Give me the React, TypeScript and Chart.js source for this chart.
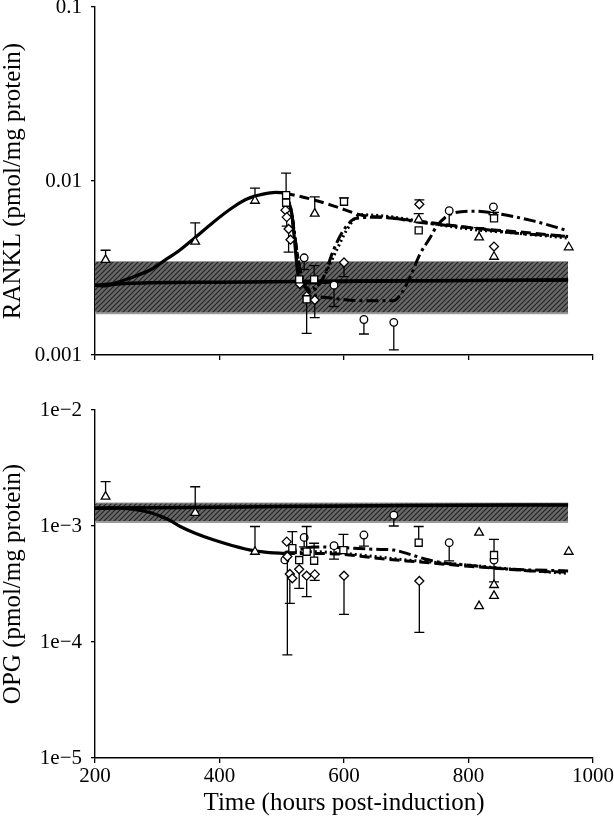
import React, { useEffect, useRef } from 'react';
import { Chart, registerables } from 'chart.js';

Chart.register(...registerables);

const FONT = '"Liberation Serif", "Times New Roman", serif';

// ---------- axes ----------
const xTicks = [200, 400, 600, 800, 1000];
const rankTickValues = [0.001, 0.01, 0.1];
const rankTickLabels = ['0.001', '0.01', '0.1'];
const opgTickValues = [1e-5, 1e-4, 1e-3, 1e-2];
const opgTickLabels = ['1e\u22125', '1e\u22124', '1e\u22123', '1e\u22122'];

// ---------- RANKL (top) ----------
const rankBandT = [200, 960];
const rankBandLow = [0.00174, 0.00174];
const rankBandHigh = [0.00342, 0.00342];

const rankCtrlT = [200, 215, 235, 400, 600, 800, 960];
const rankCtrlV = [0.00252, 0.0025, 0.00256, 0.00262, 0.00266, 0.00268, 0.0027];

const rankRiseT = [200, 230, 260, 290, 312, 336, 360, 390, 420, 445, 470, 490, 505, 511, 516, 521, 525, 529, 535, 545, 600, 800, 960];
const rankRiseV = [0.00252, 0.00258, 0.0028, 0.0031, 0.0035, 0.004, 0.0047, 0.0058, 0.007, 0.0079, 0.0084, 0.0086, 0.0085, 0.0076, 0.0065, 0.0044, 0.0031, 0.00265, 0.0026, 0.0026, 0.00264, 0.00268, 0.0027];

const rankDashT = [505, 513, 551, 588, 626, 679, 733, 800, 880, 960];
const rankDashV = [0.0085, 0.0084, 0.0078, 0.0071, 0.0064, 0.0061, 0.0058, 0.0054, 0.0051, 0.0048];

const rankDotT = [505, 516, 522, 530, 540, 561, 588, 604, 626, 680, 740, 800, 880, 960];
const rankDotV = [0.0085, 0.0065, 0.0045, 0.003, 0.0024, 0.0026, 0.004, 0.0052, 0.0064, 0.0062, 0.0057, 0.0053, 0.005, 0.0047];

const rankDashDotEarlyT = [505, 516, 522, 530, 545, 567, 583, 599, 620, 660, 720, 800, 880, 960];
const rankDashDotEarlyV = [0.0085, 0.0065, 0.0045, 0.003, 0.0023, 0.0028, 0.004, 0.0052, 0.0061, 0.0062, 0.0058, 0.0054, 0.005, 0.0048];

const rankDashDotLateT = [505, 516, 522, 530, 548, 577, 631, 679, 690, 706, 722, 738, 749, 776, 813, 840, 904, 958];
const rankDashDotLateV = [0.0085, 0.0065, 0.0045, 0.003, 0.00226, 0.00213, 0.00205, 0.00205, 0.0022, 0.0028, 0.0038, 0.0047, 0.0055, 0.00655, 0.0067, 0.00655, 0.0059, 0.0052];

const rankTriT = [217, 361, 457, 553, 720, 817, 841, 961];
const rankTriV = [0.00352, 0.00448, 0.0077, 0.0065, 0.006, 0.00474, 0.00367, 0.00416];
const rankTriErr = [0.004, 0.00575, 0.0091, 0.0081, 0.0065, 0.0054, null, null];

const rankSqT = [507, 507, 528, 552, 540, 600, 720, 841];
const rankSqV = [0.0083, 0.0075, 0.00272, 0.00272, 0.00209, 0.0076, 0.0052, 0.0061];
const rankSqErr = [0.0111, null, null, 0.00326, 0.00133, 0.008, null, 0.0066];

const rankDiaT = [506, 508, 511, 514, 529, 540, 553, 600, 721, 841];
const rankDiaV = [0.0068, 0.0062, 0.0053, 0.0046, 0.00256, 0.00218, 0.00207, 0.0034, 0.00735, 0.0042];
const rankDiaErr = [null, 0.0055, 0.0039, null, null, null, 0.00164, 0.00282, 0.00778, null];

const rankCirT = [536, 584, 632, 680, 769, 840];
const rankCirV = [0.00362, 0.00252, 0.0016, 0.00154, 0.00675, 0.0071];
const rankCirErr = [0.0031, 0.0019, 0.00132, 0.00107, 0.00559, 0.0064];

// ---------- OPG (bottom) ----------
const opgBandT = [200, 960];
const opgBandLow = [0.00108, 0.00108];
const opgBandHigh = [0.00156, 0.00156];

const opgCtrlT = [200, 300, 500, 700, 960];
const opgCtrlV = [0.00142, 0.00144, 0.00147, 0.0015, 0.00152];

const opgDropT = [200, 230, 260, 290, 320, 337, 360, 390, 420, 457, 480, 505];
const opgDropV = [0.00142, 0.00143, 0.0014, 0.0013, 0.00112, 0.00099, 0.00087, 0.00076, 0.00068, 0.00061, 0.00059, 0.00058];

const opgDashT = [505, 550, 600, 650, 700, 740, 800, 850, 900, 960];
const opgDashV = [0.00058, 0.00058, 0.00057, 0.00053, 0.0005, 0.00048, 0.00045, 0.00043, 0.00041, 0.0004];

const opgDotT = [505, 550, 600, 700, 800, 880, 960];
const opgDotV = [0.00058, 0.0006, 0.00058, 0.00051, 0.00046, 0.00042, 0.00039];

const opgDashDotT = [505, 530, 551, 600, 650, 680, 710, 730, 760, 800, 850, 960];
const opgDashDotV = [0.00059, 0.00063, 0.00066, 0.00065, 0.00063, 0.00062, 0.00056, 0.00052, 0.00048, 0.00046, 0.00043, 0.00041];

const opgTriT = [217, 361, 457, 817, 817, 841, 841, 961];
const opgTriV = [0.00179, 0.0013, 0.0006, 0.000877, 0.000204, 0.00031, 0.00025, 0.0006];
const opgTriErr = [0.00241, 0.00218, 0.00099, null, null, null, null, null];

const opgSqT = [517, 528, 540, 552, 599, 720, 841];
const opgSqV = [0.000643, 0.000509, 0.0006, 0.000502, 0.00062, 0.000718, 0.000562];
const opgSqErr = [0.000893, null, 0.00099, 0.00071, 0.000847, 0.00099, 0.000767];

const opgDiaT = [508, 509, 513, 517, 528, 540, 553, 600, 721];
const opgDiaV = [0.000733, 0.000545, 0.000386, 0.000354, 0.000424, 0.000373, 0.000383, 0.000373, 0.000336];
const opgDiaErr = [null, 0.0000773, 0.000215, null, 0.00029, 0.000246, 0.00034, 0.000173, 0.000121];

const opgCirT = [505, 536, 584, 632, 680, 769, 841];
const opgCirV = [0.00051, 0.000797, 0.000676, 0.000836, 0.00124, 0.000718, 0.000509];
const opgCirErr = [null, 0.00066, 0.000518, 0.00067, 0.001, 0.0005, 0.00033];

// ---------- helpers ----------
const pts = (t: number[], v: number[]) => t.map((x, i) => ({ x, y: v[i] }));

function hatchPattern(): CanvasPattern | string {
  const c = document.createElement('canvas');
  c.width = 5;
  c.height = 5;
  const g = c.getContext('2d');
  if (!g) return '#555';
  g.fillStyle = '#686868';
  g.fillRect(0, 0, 5, 5);
  g.strokeStyle = '#222';
  g.lineWidth = 1.1;
  g.beginPath();
  g.moveTo(0, 5);
  g.lineTo(5, 0);
  g.moveTo(-1, 1);
  g.lineTo(1, -1);
  g.moveTo(4, 6);
  g.lineTo(6, 4);
  g.stroke();
  return g.createPattern(c, 'repeat') || '#555';
}

const errorBarPlugin = {
  id: 'errorBars',
  beforeDatasetDraw(chart: any, args: any) {
    const ds: any = chart.data.datasets[args.index];
    if (!ds.errEnd) return;
    const ctx = chart.ctx;
    const ys = chart.scales.y;
    ctx.save();
    ctx.strokeStyle = '#000';
    ctx.lineWidth = 1.3;
    args.meta.data.forEach((el: any, j: number) => {
      const e = ds.errEnd[j];
      if (e == null) return;
      const y2 = ys.getPixelForValue(e);
      ctx.beginPath();
      ctx.moveTo(el.x, el.y);
      ctx.lineTo(el.x, y2);
      ctx.moveTo(el.x - 5, y2);
      ctx.lineTo(el.x + 5, y2);
      ctx.stroke();
    });
    ctx.restore();
  },
};

function bandSets(t: number[], lo: number[], hi: number[], pattern: any) {
  return [
    {
      data: pts(t, hi), borderColor: '#9c9c9c', borderWidth: 2, pointRadius: 0, fill: false, order: 100, tension: 0,
    },
    {
      data: pts(t, lo), borderColor: '#9c9c9c', borderWidth: 2, pointRadius: 0, fill: '-1', backgroundColor: pattern, order: 99, tension: 0,
    },
  ];
}

function curve(t: number[], v: number[], dash: number[], width = 3) {
  return {
    data: pts(t, v), borderColor: '#000', borderWidth: width, borderDash: dash, pointRadius: 0,
    fill: false, cubicInterpolationMode: 'monotone', order: 50,
  };
}

function markers(t: number[], v: number[], err: (number | null)[], style: string, r: number) {
  return {
    data: pts(t, v), showLine: false, pointStyle: style, pointRadius: r, pointBackgroundColor: '#fff',
    pointBorderColor: '#000', pointBorderWidth: 1.3, errEnd: err, order: 1,
  };
}

function axisOpts(p: {
  yMin: number; yMax: number; yVals: number[]; yLabels: string[]; yTitle: string; xLabels: boolean; xHeight: number;
}) {
  return {
    x: {
      type: 'linear', min: 200, max: 1000,
      afterBuildTicks: (s: any) => { s.ticks = xTicks.map((value) => ({ value })); },
      ticks: {
        callback: (v: any) => (p.xLabels ? String(v) : ''), font: { family: FONT, size: 21 }, color: '#000',
        padding: 1, maxRotation: 0, autoSkip: false,
      },
      grid: { drawOnChartArea: false, drawTicks: true, tickLength: 5, color: '#000', lineWidth: 1.3 },
      border: { display: true, color: '#000', width: 1.4 },
      title: {
        display: p.xLabels, text: 'Time (hours post-induction)', color: '#000',
        font: { family: FONT, size: 25, lineHeight: 1.2 }, padding: { top: 0, bottom: 7 },
      },
      afterFit: (s: any) => { s.height = p.xHeight; s.paddingLeft = 0; s.paddingRight = 0; },
    },
    y: {
      type: 'logarithmic', min: p.yMin, max: p.yMax,
      afterBuildTicks: (s: any) => { s.ticks = p.yVals.map((value) => ({ value })); },
      ticks: {
        callback: (v: any) => {
          const i = p.yVals.findIndex((q) => Math.abs(q - v) / q < 1e-6);
          return i >= 0 ? p.yLabels[i] : '';
        },
        font: { family: FONT, size: 21 }, color: '#000', padding: 9, autoSkip: false,
      },
      grid: { drawOnChartArea: false, drawTicks: true, tickLength: 4, color: '#000', lineWidth: 1.3 },
      border: { display: true, color: '#000', width: 1.4 },
      title: {
        display: true, text: p.yTitle, color: '#000',
        font: { family: FONT, size: 25, lineHeight: 1.1 }, padding: { top: 0, bottom: 0 },
      },
      afterFit: (s: any) => { s.width = 95; s.paddingTop = 0; s.paddingBottom = 0; },
    },
  };
}

function baseOptions(scales: any, padTop: number) {
  return {
    responsive: false,
    animation: false,
    devicePixelRatio: 1,
    events: [],
    layout: { padding: { left: 0, right: 21, top: padTop, bottom: 0 } },
    plugins: { legend: { display: false }, tooltip: { enabled: false } },
    scales,
  };
}

export default function App() {
  const topRef = useRef<HTMLCanvasElement>(null);
  const botRef = useRef<HTMLCanvasElement>(null);

  useEffect(() => {
    const pattern = hatchPattern();
    const top = new Chart(topRef.current as HTMLCanvasElement, {
      type: 'line',
      data: {
        datasets: [
          ...bandSets(rankBandT, rankBandLow, rankBandHigh, pattern),
          curve(rankCtrlT, rankCtrlV, [], 3.5),
          curve(rankRiseT, rankRiseV, [], 3.2),
          curve(rankDashT, rankDashV, [10, 5], 3),
          curve(rankDotT, rankDotV, [2, 3], 3),
          curve(rankDashDotEarlyT, rankDashDotEarlyV, [12, 4, 3, 4], 3),
          curve(rankDashDotLateT, rankDashDotLateV, [12, 4, 3, 4], 3),
          markers(rankTriT, rankTriV, rankTriErr, 'triangle', 5),
          markers(rankSqT, rankSqV, rankSqErr, 'rect', 5),
          markers(rankDiaT, rankDiaV, rankDiaErr, 'rectRot', 4.5),
          markers(rankCirT, rankCirV, rankCirErr, 'circle', 3.8),
        ] as any,
      },
      options: baseOptions(axisOpts({
        yMin: 0.001, yMax: 0.1, yVals: rankTickValues, yLabels: rankTickLabels,
        yTitle: 'RANKL (pmol/mg protein)', xLabels: false, xHeight: 20,
      }), 7) as any,
      plugins: [errorBarPlugin],
    });
    const bot = new Chart(botRef.current as HTMLCanvasElement, {
      type: 'line',
      data: {
        datasets: [
          ...bandSets(opgBandT, opgBandLow, opgBandHigh, pattern),
          curve(opgCtrlT, opgCtrlV, [], 3.5),
          curve(opgDropT, opgDropV, [], 3.2),
          curve(opgDashT, opgDashV, [10, 5], 3),
          curve(opgDotT, opgDotV, [2, 3], 3),
          curve(opgDashDotT, opgDashDotV, [12, 4, 3, 4], 3),
          markers(opgTriT, opgTriV, opgTriErr, 'triangle', 5),
          markers(opgSqT, opgSqV, opgSqErr, 'rect', 5),
          markers(opgDiaT, opgDiaV, opgDiaErr, 'rectRot', 4.5),
          markers(opgCirT, opgCirV, opgCirErr, 'circle', 3.8),
        ] as any,
      },
      options: baseOptions(axisOpts({
        yMin: 1e-5, yMax: 1e-2, yVals: opgTickValues, yLabels: opgTickLabels,
        yTitle: 'OPG (pmol/mg protein)', xLabels: true, xHeight: 67,
      }), 20) as any,
      plugins: [errorBarPlugin],
    });
    return () => {
      top.destroy();
      bot.destroy();
    };
  }, []);

  return (
    <div style={{ position: 'absolute', left: 0, top: 0, width: 614, height: 825, background: '#fff' }}>
      <canvas ref={topRef} width={614} height={375} style={{ position: 'absolute', left: 0, top: 0 }} />
      <canvas ref={botRef} width={614} height={435} style={{ position: 'absolute', left: 0, top: 390 }} />
    </div>
  );
}
